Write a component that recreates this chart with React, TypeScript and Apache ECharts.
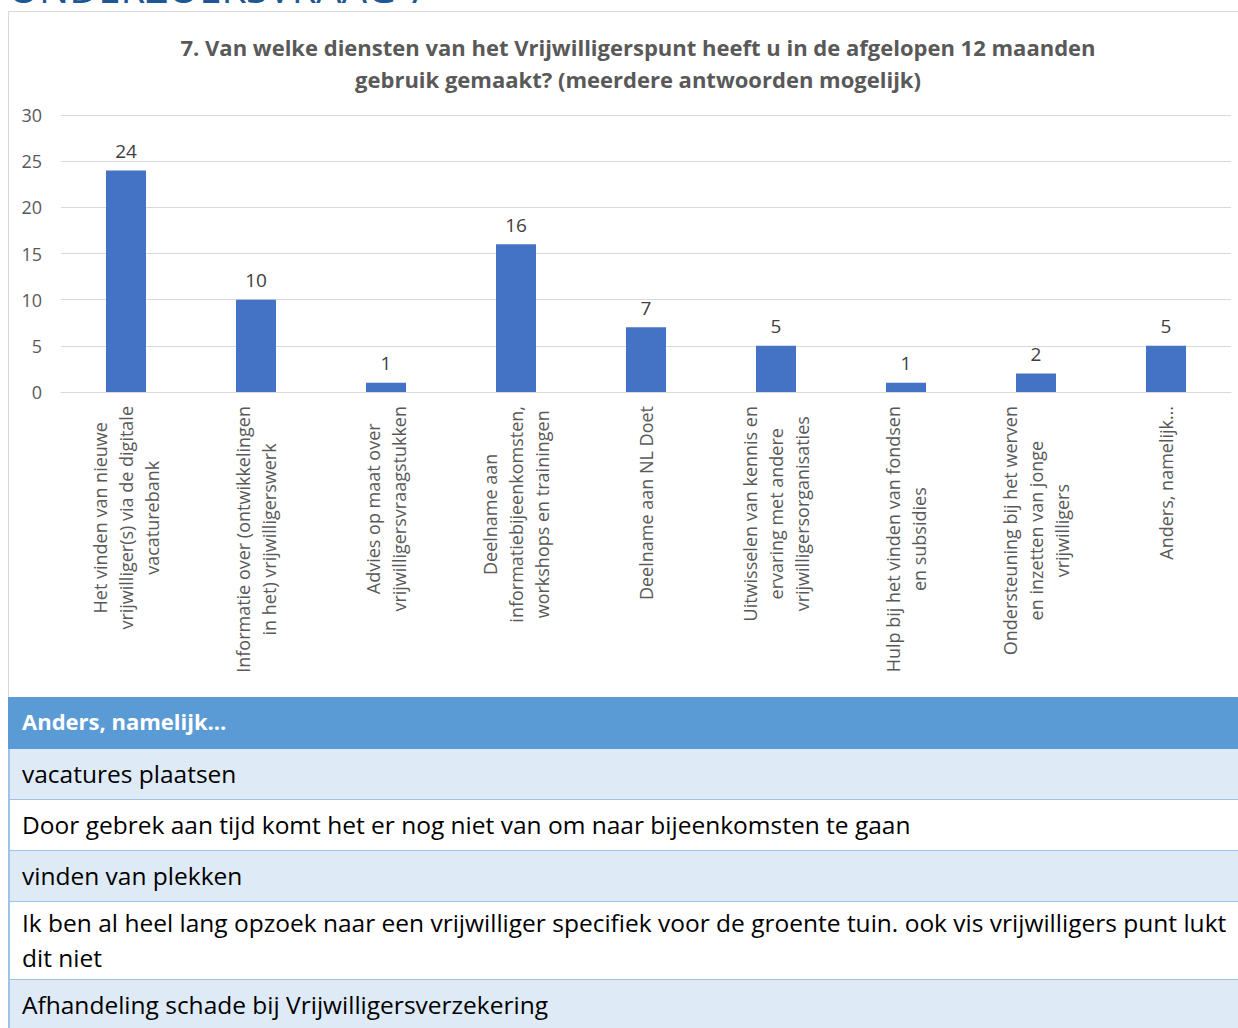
import React, { useEffect, useRef } from "react";
import * as echarts from "echarts";

const FONT = "'Open Sans', 'Noto Sans', sans-serif";

const pageHeading = "ONDERZOEKSVRAAG 7";
const chartTitle =
  "7. Van welke diensten van het Vrijwilligerspunt heeft u in de afgelopen 12 maanden\ngebruik gemaakt? (meerdere antwoorden mogelijk)";

const categories = [
  "Het vinden van nieuwe\nvrijwilliger(s) via de digitale\nvacaturebank",
  "Informatie over (ontwikkelingen\nin het) vrijwilligerswerk",
  "Advies op maat over\nvrijwilligersvraagstukken",
  "Deelname aan\ninformatiebijeenkomsten,\nworkshops en trainingen",
  "Deelname aan NL Doet",
  "Uitwisselen van kennis en\nervaring met andere\nvrijwilligersorganisaties",
  "Hulp bij het vinden van fondsen\nen subsidies",
  "Ondersteuning bij het werven\nen inzetten van jonge\nvrijwilligers",
  "Anders, namelijk…",
];

const counts = [24, 10, 1, 16, 7, 5, 1, 2, 5];

const yMin = 0;
const yMax = 30;
const yStep = 5;

const tableHeader = "Anders, namelijk…";
const tableRows = [
  "vacatures plaatsen",
  "Door gebrek aan tijd komt het er nog niet van om naar bijeenkomsten te gaan",
  "vinden van plekken",
  "Ik ben al heel lang opzoek naar een vrijwilliger specifiek voor de groente tuin. ook vis vrijwilligers punt lukt\ndit niet",
  "Afhandeling schade bij Vrijwilligersverzekering",
];

function buildTable(): any[] {
  const els: any[] = [];
  const x0 = 8;
  const w = 1240;
  let y = 697;
  const headerH = 52;
  els.push({
    type: "rect",
    shape: { x: x0, y, width: w, height: headerH },
    style: { fill: "#5B9BD5" },
  });
  els.push({
    type: "text",
    style: {
      text: tableHeader,
      x: 22,
      y: y + headerH / 2 - 2,
      verticalAlign: "middle",
      fill: "#FFFFFF",
      font: `bold 22px ${FONT}`,
    },
  });
  y += headerH;
  const lineH = 35;
  tableRows.forEach((row, i) => {
    const nLines = row.split("\n").length;
    const h = nLines > 1 ? 78 : 51;
    els.push({
      type: "rect",
      shape: { x: x0, y, width: w, height: h },
      style: { fill: i % 2 === 0 ? "#DEEAF6" : "#FFFFFF" },
    });
    els.push({
      type: "text",
      style: {
        text: row,
        x: 22,
        y: y + h / 2 - 1,
        verticalAlign: "middle",
        fill: "#000000",
        font: `24.5px ${FONT}`,
        lineHeight: lineH,
      },
    });
    y += h;
    els.push({
      type: "line",
      shape: { x1: x0, y1: y, x2: x0 + w, y2: y },
      style: { stroke: "#9DC3E6", lineWidth: 2 },
    });
  });
  els.push({
    type: "line",
    shape: { x1: x0 + 1, y1: 749, x2: x0 + 1, y2: 1040 },
    style: { stroke: "#9DC3E6", lineWidth: 2 },
  });
  return els;
}

export default function App() {
  const ref = useRef<HTMLDivElement>(null);
  useEffect(() => {
    if (!ref.current) return;
    const chart = echarts.init(ref.current, null, { renderer: "svg" });
    chart.setOption({
      animation: false,
      backgroundColor: "#FFFFFF",
      title: {
        text: chartTitle,
        left: 633,
        top: 26,
        textAlign: "center",
        textStyle: {
          fontFamily: FONT,
          fontSize: 22,
          fontWeight: "bold",
          color: "#595959",
          lineHeight: 32,
        },
      },
      grid: { left: 61, top: 115, width: 1170, height: 277, containLabel: false },
      xAxis: {
        type: "category",
        data: categories,
        axisLine: { lineStyle: { color: "#D9D9D9", width: 1 } },
        axisTick: { show: false },
        axisLabel: {
          interval: 0,
          rotate: 90,
          margin: 14,
          formatter: (v: string) =>
            v
              .split("\n")
              .map((l) => `{c|${l}}`)
              .join("\n"),
          rich: {
            c: {
              align: "center",
              fontFamily: FONT,
              fontSize: 18,
              color: "#595959",
              lineHeight: 26,
            },
          },
        },
      },
      yAxis: {
        type: "value",
        min: yMin,
        max: yMax,
        interval: yStep,
        axisLine: { show: false },
        axisTick: { show: false },
        splitLine: { lineStyle: { color: "#D9D9D9", width: 1 } },
        axisLabel: {
          margin: 19,
          fontFamily: FONT,
          fontSize: 18,
          color: "#595959",
        },
      },
      series: [
        {
          type: "bar",
          data: counts,
          barWidth: 40,
          itemStyle: { color: "#4472C4" },
          label: {
            show: true,
            position: "top",
            distance: 10,
            fontFamily: FONT,
            fontSize: 19,
            color: "#404040",
          },
        },
      ],
      graphic: [
        {
          type: "text",
          style: {
            text: pageHeading,
            x: 8,
            y: 7,
            verticalAlign: "bottom",
            fill: "#1F5694",
            font: `40px ${FONT}`,
          },
        },
        {
          type: "rect",
          shape: { x: 8.5, y: 11.5, width: 1240, height: 690 },
          style: { fill: "none", stroke: "#D9D9D9", lineWidth: 1 },
        },
        ...buildTable(),
      ],
    });
    return () => chart.dispose();
  }, []);
  return (
    <div
      ref={ref}
      style={{ position: "absolute", left: 0, top: 0, width: 1238, height: 1028 }}
    />
  );
}
